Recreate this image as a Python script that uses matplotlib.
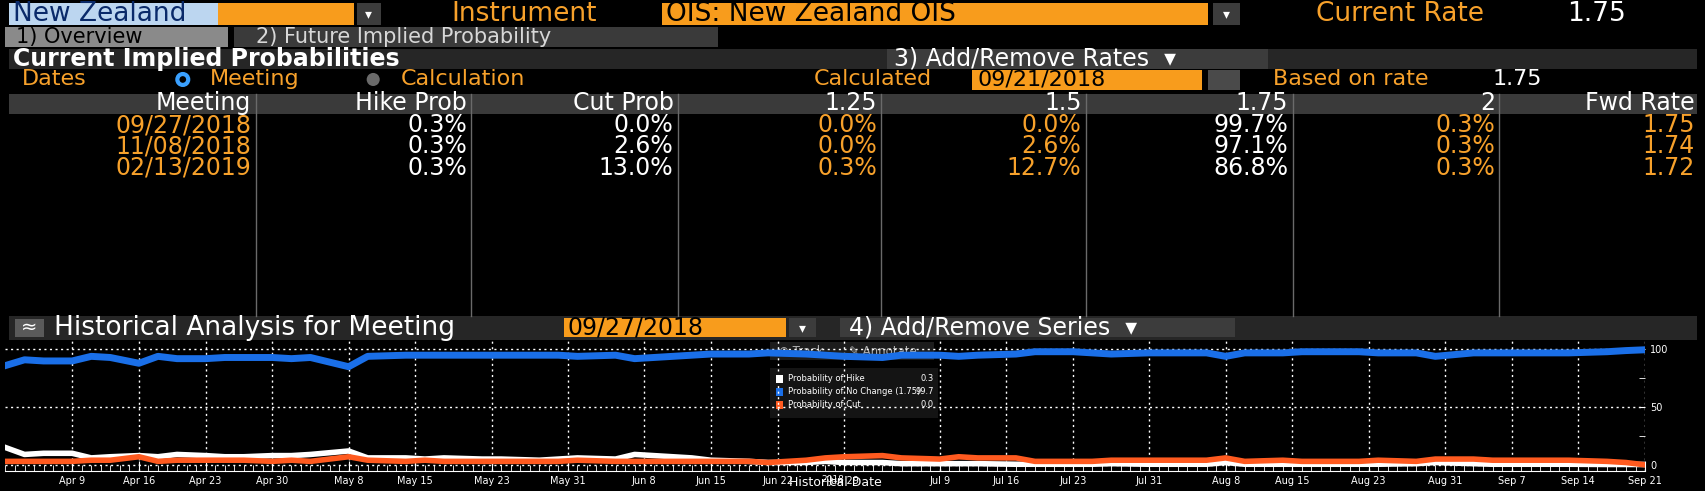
import numpy as np
import pandas as pd
import matplotlib
matplotlib.use("Agg")
import matplotlib.pyplot as plt
import matplotlib.dates as mdates
from matplotlib.patches import Rectangle, Circle

# layout is in "screen" units of 1568x451, scaled to the 1706x491 output
W, H = 1568, 451
BOX = "#f89c1c"
TXT_OR = "#f7a12b"

# ---- data ----
columns = ["Meeting", "Hike Prob", "Cut Prob", "1.25", "1.5", "1.75", "2", "Fwd Rate"]
meetings = ["09/27/2018", "11/08/2018", "02/13/2019"]
hike_prob = ["0.3%", "0.3%", "0.3%"]
cut_prob = ["0.0%", "2.6%", "13.0%"]
p_125 = ["0.0%", "0.0%", "0.3%"]
p_150 = ["0.0%", "2.6%", "12.7%"]
p_175 = ["99.7%", "97.1%", "86.8%"]
p_200 = ["0.3%", "0.3%", "0.3%"]
fwd_rate = ["1.75", "1.74", "1.72"]

hist_dates = [
    "2018-04-02", "2018-04-04", "2018-04-06", "2018-04-09", "2018-04-11", "2018-04-13", "2018-04-16",
    "2018-04-18", "2018-04-20", "2018-04-23", "2018-04-25", "2018-04-27", "2018-04-30",
    "2018-05-02", "2018-05-04", "2018-05-08", "2018-05-10", "2018-05-14", "2018-05-16", "2018-05-18",
    "2018-05-22", "2018-05-24", "2018-05-28", "2018-05-30",
    "2018-06-01", "2018-06-05", "2018-06-07", "2018-06-11", "2018-06-13", "2018-06-15", "2018-06-19",
    "2018-06-21", "2018-06-25", "2018-06-27", "2018-06-29",
    "2018-07-03", "2018-07-05", "2018-07-09", "2018-07-11", "2018-07-13", "2018-07-17", "2018-07-19",
    "2018-07-23", "2018-07-25", "2018-07-27", "2018-07-31",
    "2018-08-02", "2018-08-06", "2018-08-08", "2018-08-10", "2018-08-14", "2018-08-16", "2018-08-20",
    "2018-08-22", "2018-08-24", "2018-08-28", "2018-08-30",
    "2018-09-03", "2018-09-05", "2018-09-07", "2018-09-11", "2018-09-13", "2018-09-17", "2018-09-19",
    "2018-09-21",
]
prob_hike = [15, 9, 10, 10, 6, 7, 8, 7, 9, 8, 7, 7, 8,
             8, 9, 12, 6, 6, 5, 6, 5, 5, 4, 5,
             6, 5, 9, 7, 6, 4, 3, 2, 2, 3, 2,
             2, 1, 1, 1, 1, 0.5, 0.5, 0.5, 0.5, 1, 0.5,
             0.5, 0.5, 2, 0.5, 0.5, 0.5, 0.5, 0.5, 0.5, 1, 2,
             1, 0.5, 0.5, 0.5, 0.5, 0.3, 0.3, 0.3]
prob_cut = [3, 3, 3, 3, 4, 4, 7, 3, 4, 4, 4, 4, 3,
            4, 3, 7, 4, 3, 4, 3, 3, 3, 3, 3,
            4, 3, 3, 3, 3, 3, 3, 2, 4, 6, 7,
            8, 6, 5, 7, 6, 6, 3, 3, 3, 4, 4,
            4, 4, 6, 3, 4, 3, 3, 3, 4, 3, 5,
            5, 4, 4, 4, 4, 3, 2, 0.0]
prob_nochange = [86, 91, 90, 90, 94, 93, 88, 94, 92, 92, 93, 93, 93,
                 92, 93, 85, 94, 95, 95, 95, 95, 95, 95, 95,
                 94, 95, 92, 94, 95, 96, 96, 97, 96, 95, 94,
                 93, 95, 95, 94, 95, 96, 98, 98, 97, 96, 97,
                 97, 97, 94, 97, 97, 98, 98, 98, 97, 97, 94,
                 97, 97, 97, 97, 97, 98, 99, 99.7]
tick_dates = ["2018-04-09", "2018-04-16", "2018-04-23", "2018-04-30", "2018-05-08", "2018-05-15",
              "2018-05-23", "2018-05-31", "2018-06-08", "2018-06-15", "2018-06-22", "2018-06-29",
              "2018-07-09", "2018-07-16", "2018-07-23", "2018-07-31", "2018-08-08", "2018-08-15",
              "2018-08-23", "2018-08-31", "2018-09-07", "2018-09-14", "2018-09-21"]

fig = plt.figure(figsize=(17.06, 4.91), dpi=100, facecolor="black")
bg = fig.add_axes([0, 0, 1, 1])
bg.set_xlim(0, W)
bg.set_ylim(H, 0)
bg.axis("off")


def rect(x0, y0, x1, y1, color):
    bg.add_patch(Rectangle((x0, y0), x1 - x0, y1 - y0, facecolor=color, edgecolor="none"))


def txt(x, y, s, color=TXT_OR, size=15, ha="left", **kw):
    bg.text(x, y, s, color=color, fontsize=size, ha=ha, va="center", **kw)


def arrow_btn(x0, y0, x1, y1):
    rect(x0, y0, x1, y1, "#3c3c3c")
    txt((x0 + x1) / 2, (y0 + y1) / 2, "▾", color="white", size=10, ha="center")


# top line
rect(8, 3, 200, 23, "#bcd6f0")
rect(200, 3, 325, 23, BOX)
arrow_btn(328, 3, 350, 23)
txt(12, 13, "New Zealand", color="#0a2a6a", size=19)
txt(415, 13, "Instrument", size=19)
rect(608, 3, 1110, 23, BOX)
txt(612, 13, "OIS: New Zealand OIS", color="black", size=19)
arrow_btn(1115, 3, 1140, 23)
txt(1210, 13, "Current Rate", size=19)
txt(1440, 13, "1.75", color="white", size=19)

# tabs
rect(5, 25, 210, 43, "#8a8a8a")
txt(15, 34, "1) Overview", color="black", size=15)
rect(215, 25, 660, 43, "#3a3a3a")
txt(235, 34, "2) Future Implied Probability", color="#d8d8d8", size=15)

rect(8, 45, 1560, 63, "#262626")
txt(12, 54, "Current Implied Probabilities", color="white", size=17, weight="bold")
rect(815, 45, 1165, 63, "#3c3c3c")
txt(822, 54, "3) Add/Remove Rates  ▾", color="white", size=17)

txt(20, 73, "Dates", size=16)
bg.add_patch(Circle((168, 73), 5, facecolor="black", edgecolor="#3aa0ff", lw=3))
txt(193, 73, "Meeting", size=16)
bg.add_patch(Circle((343, 73), 6, facecolor="#6a6a6a", edgecolor="none"))
txt(368, 73, "Calculation", size=16)
txt(748, 73, "Calculated", size=16)
rect(893, 64, 1105, 83, BOX)
txt(898, 73, "09/21/2018", color="black", size=16)
rect(1110, 64, 1140, 83, "#4a4a4a")
txt(1170, 73, "Based on rate", size=16)
txt(1372, 73, "1.75", color="white", size=16)

# table
col_edges = [8, 235, 433, 623, 810, 998, 1188, 1378, 1562]
rect(8, 86, 1560, 105, "#3a3a3a")
for e in col_edges[1:-1]:
    bg.plot([e, e], [86, 290], color="#6a6a6a", lw=1)
for i, c in enumerate(columns):
    txt(col_edges[i + 1] - 4, 95, c, color="white", size=17, ha="right")
table_cols = [meetings, hike_prob, cut_prob, p_125, p_150, p_175, p_200, fwd_rate]
for r in range(len(meetings)):
    y = 115 + r * 19.5
    for i, col in enumerate(table_cols):
        color = "white" if i in (1, 2, 5) else TXT_OR
        txt(col_edges[i + 1] - 4, y, col[r], color=color, size=17, ha="right")

# historical header
rect(8, 290, 1560, 312, "#262626")
rect(14, 293, 40, 310, "#5a5a5a")
txt(27, 301, "≈", color="white", size=14, ha="center")
txt(50, 301, "Historical Analysis for Meeting", color="white", size=19)
rect(518, 292, 722, 310, BOX)
txt(522, 301, "09/27/2018", color="black", size=17)
arrow_btn(725, 292, 750, 310)
rect(772, 292, 1135, 310, "#3c3c3c")
txt(780, 301, "4) Add/Remove Series  ▾", color="white", size=17)

# chart
x0, x1, ytop, ybot = 5, 1512, 313, 433
ax = fig.add_axes([x0 / W, 1 - ybot / H, (x1 - x0) / W, (ybot - ytop) / H])
ax.set_facecolor("none")
d = pd.to_datetime(hist_dates)
ax.plot(d, prob_hike, color="white", lw=4, solid_joinstyle="round")
ax.plot(d, prob_cut, color="#ff5a1f", lw=4, solid_joinstyle="round")
ax.plot(d, prob_nochange, color="#1a6fe8", lw=5, solid_joinstyle="round")
ax.set_xlim(pd.Timestamp("2018-04-02"), pd.Timestamp("2018-09-21"))
ax.set_ylim(-5.7, 107.5)
td = pd.to_datetime(tick_dates)
ax.set_xticks(td)
ax.set_xticklabels([t.strftime("%b %-d") for t in td], color="white", fontsize=7)
ax.xaxis.set_minor_locator(mdates.DayLocator())
ax.tick_params(axis="x", which="both", colors="white", length=4, direction="in")
ax.tick_params(axis="x", which="major", length=7)
ax.yaxis.tick_right()
ax.set_yticks([0, 50, 100])
ax.set_yticks([25, 75], minor=True)
ax.tick_params(axis="y", which="both", colors="white", labelsize=7, length=4, direction="in")
for s in ["top", "left", "right"]:
    ax.spines[s].set_visible(False)
ax.spines["bottom"].set_color("white")
ax.grid(True, which="major", color="white", ls=(0, (1.5, 2.5)), lw=1)

# toolbar + legend
rect(708, 314, 858, 331, "#1c1c1c")
txt(716, 323, "⊕ Track", color="#b0b0b0", size=8.5)
txt(780, 323, "✎ Annotate", color="#b0b0b0", size=8.5)
rect(708, 338, 862, 384, "#141414")
leg = [("white", "Probability of Hike", "0.3"),
       ("#1a6fe8", "Probability of No Change (1.75)", "99.7"),
       ("#ff5a1f", "Probability of Cut", "0.0")]
for i, (c, lab, v) in enumerate(leg):
    y = 348 + i * 12
    rect(713, y - 4, 720, y + 4, c)
    txt(724, y, lab, color="white", size=6)
    txt(858, y, v, color="white", size=6, ha="right")

txt(765, 455, "2018", color="white", size=6.5, ha="center")
bg.texts[-1].set_y(440)
txt(768, 438, "", color="white")
bg.text(768, 443, "Historical Date", color="white", fontsize=9, ha="center", va="center")

fig.savefig("out.png", dpi=100, facecolor="black")
